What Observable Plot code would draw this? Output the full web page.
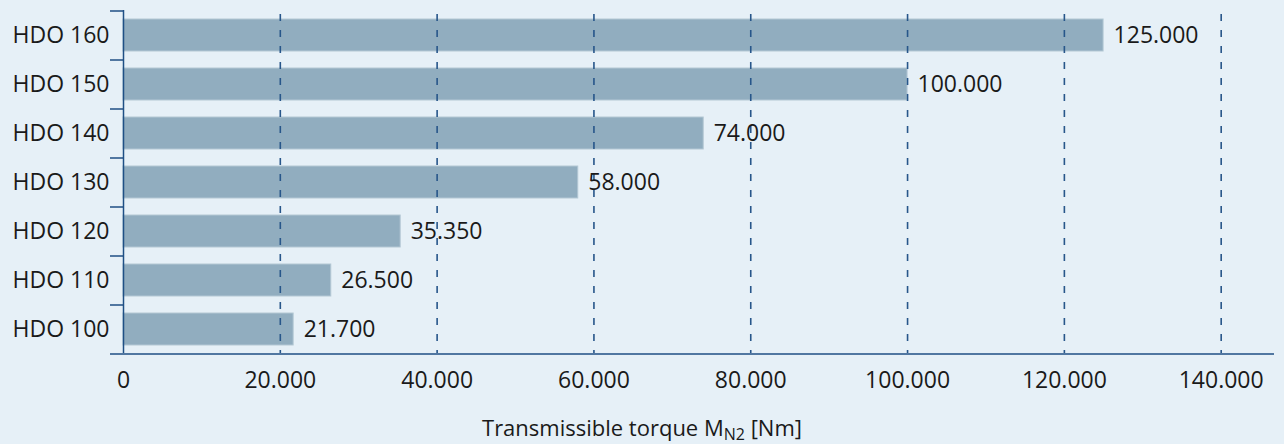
<!DOCTYPE html>
<html>
<head>
<meta charset="utf-8">
<script src="https://cdn.jsdelivr.net/npm/d3@7"></script>
<script src="https://cdn.jsdelivr.net/npm/@observablehq/plot@0.6"></script>
<style>
  html, body { margin: 0; padding: 0; background: #e6f0f7; overflow: hidden; }
  #chart svg { display: block; }
  #caption {
    width: 1284px; height: 40px; text-align: center; font-family: 'Open Sans', sans-serif;
    font-size: 22px; line-height: 26px; padding-top: 10px; color: #1a1a1a; box-sizing: border-box;
  }
  #caption sub { font-size: 16px; vertical-align: -4px; line-height: 0; }
</style>
</head>
<body>
<div id="chart"></div>
<div id="caption">Transmissible torque M<sub>N2</sub> [Nm]</div>
<script>
const categories = ["HDO 160", "HDO 150", "HDO 140", "HDO 130", "HDO 120", "HDO 110", "HDO 100"];
const values = [125000, 100000, 74000, 58000, 35350, 26500, 21700];
const xTicks = [0, 20000, 40000, 60000, 80000, 100000, 120000, 140000];
const xMax = 146800;

const data = categories.map((c, i) => ({model: c, torque: values[i]}));
const fmt = d => d3.format(",")(d).replace(/,/g, ".");
const axisColor = "#1f4f85";

const chart = Plot.plot({
  width: 1284,
  height: 404,
  marginTop: 10,
  marginBottom: 51,
  marginLeft: 123,
  marginRight: 10,
  style: {background: "transparent", fontFamily: "'Open Sans', sans-serif", fontSize: "23px", color: "#1a1a1a"},
  x: {domain: [0, xMax], ticks: xTicks},
  y: {domain: categories, paddingInner: 0.35, paddingOuter: 0.175},
  marks: [
    Plot.barX(data, {y: "model", x: "torque", fill: "#91adbf", stroke: "#b3c7d4", strokeWidth: 1}),
    Plot.ruleX(xTicks.filter(d => d > 0), {stroke: "#27568a", strokeWidth: 1.6, strokeDasharray: "7,9", insetTop: 4}),
    Plot.ruleX([0], {stroke: axisColor, strokeWidth: 1.5}),
    Plot.ruleY(categories, {y: d => d, x1: 0, x2: 0, insetLeft: -13, dy: -24.5, stroke: axisColor, strokeWidth: 1.5}),
    Plot.ruleY([categories[categories.length - 1]], {y: d => d, x1: 0, x2: xMax, insetLeft: -13, dy: 24.5, stroke: axisColor, strokeWidth: 1.5}),
    Plot.text(data, {y: "model", x: "torque", text: d => fmt(d.torque), textAnchor: "start", dx: 10, fill: "#1a1a1a"}),
    Plot.axisX(xTicks, {tickSize: 0, tickPadding: 18, tickFormat: fmt, label: null}),
    Plot.axisY({tickSize: 0, tickPadding: 14, label: null})
  ]
});
document.getElementById("chart").append(chart);
</script>
</body>
</html>
